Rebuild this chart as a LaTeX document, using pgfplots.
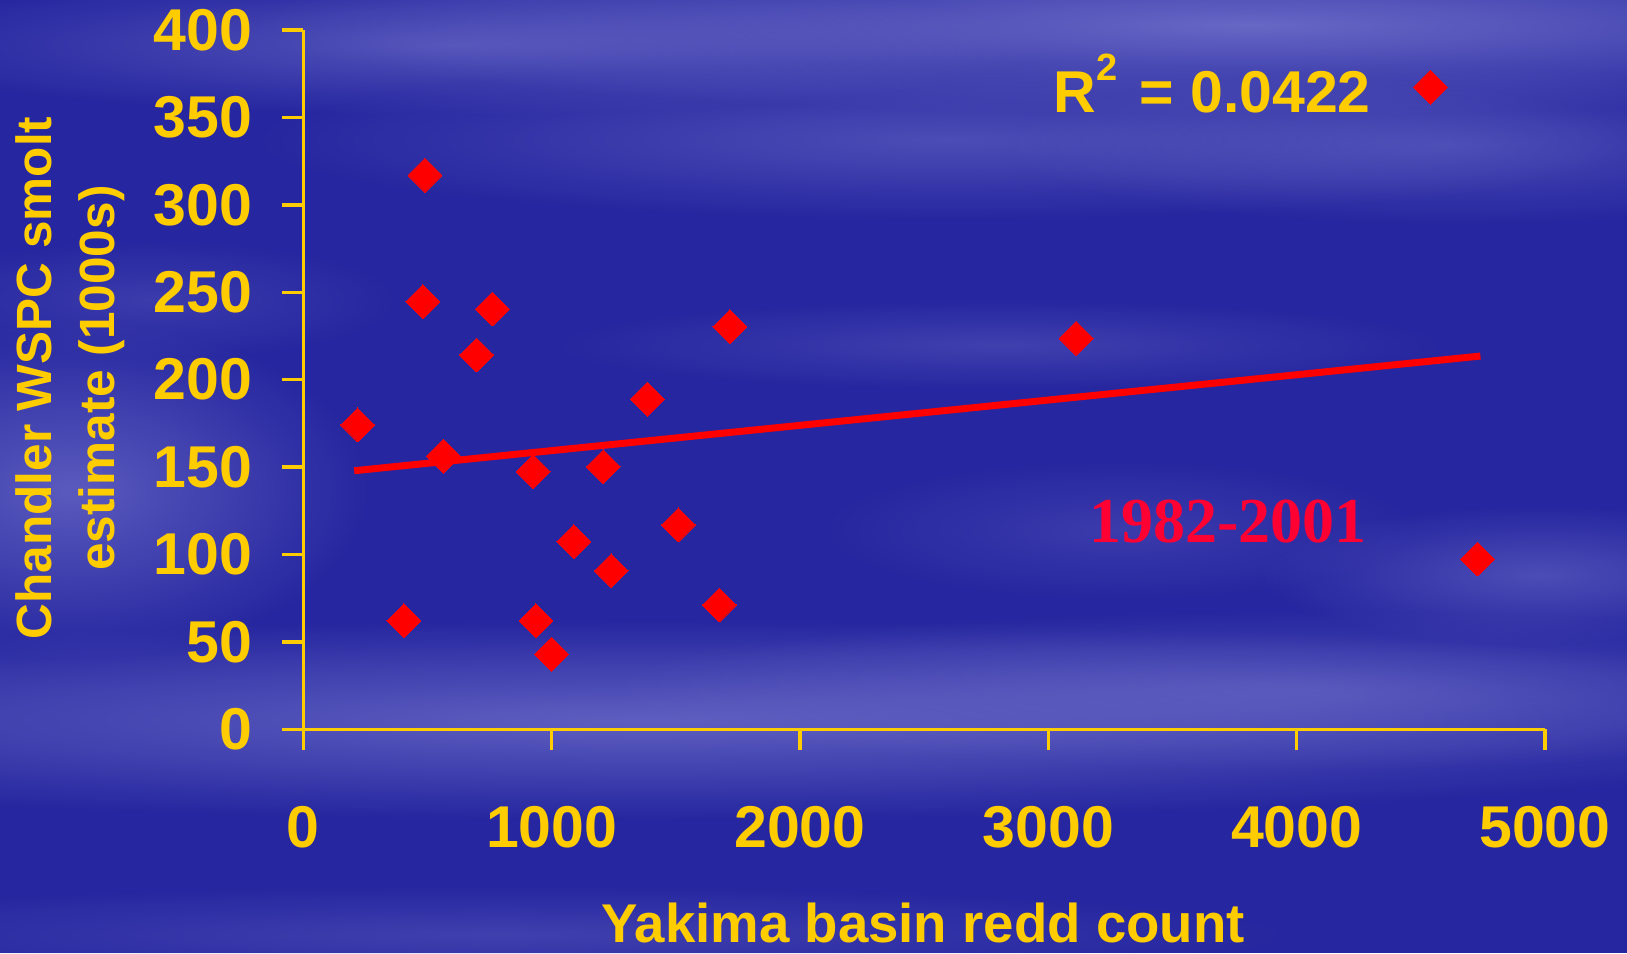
\documentclass[border=0pt]{standalone}
\usepackage{fontspec}
\setmainfont{Liberation Sans}
\newfontfamily\serifface{Liberation Serif}
\usepackage{pgfplots}
\pgfplotsset{compat=1.18}
\usetikzlibrary{fadings}

\definecolor{bgblue}{RGB}{38,38,160}
\definecolor{haze}{RGB}{125,125,210}
\definecolor{gold}{RGB}{255,204,0}
\definecolor{crimson}{RGB}{255,0,51}

\tikzfading[name=soft, inner color=transparent!0, outer color=transparent!100]

\begin{document}
\begin{tikzpicture}[x=0.5pt,y=0.5pt]
\useasboundingbox (0,0) rectangle (1627,953);
\clip (0,0) rectangle (1627,953);
\fill[bgblue] (0,0) rectangle (1627,953);
% cloudy streaks in the backdrop (positions measured from the top edge)
\begin{scope}[shift={(0,953)},yscale=-1]
  \foreach \cx/\cy/\rx/\ry/\op in {
      1250/25/1000/90/0.75, 450/45/600/70/0.5, 950/140/700/80/0.45,
      1450/145/450/80/0.4, 1000/345/450/45/0.3, 70/490/300/170/0.6,
      650/720/1300/100/0.65, 1300/690/700/80/0.45, 1540/575/280/70/0.45,
      1120/530/300/70/0.25, 500/935/800/50/0.3, 150/300/250/60/0.25}
  {
    \fill[haze, opacity=\op, path fading=soft] (\cx,\cy) ellipse ({\rx} and {\ry});
  }
\end{scope}

\begin{axis}[
  at={(151.65pt,111.85pt)}, anchor=south west,
  scale only axis, width=620.85pt, height=349.65pt,
  xmin=0, xmax=5000, ymin=0, ymax=400,
  axis lines=left,
  axis line style={gold, line width=1.7pt, -},
  tick style={gold, line width=1.7pt},
  tick align=outside, major tick length=10.5pt,
  xtick={0,1000,...,5000}, ytick={0,50,...,400},
  minor tick num=0,
  /pgf/number format/assume math mode=true,
  /pgf/number format/1000 sep={},
  ticklabel style={text=gold, font=\fontsize{29.5}{32}\selectfont\bfseries, inner sep=0pt},
  xticklabel style={anchor=north, yshift=-28pt},
  yticklabel style={anchor=east, xshift=-15pt},
  clip=false,
]
\addplot[only marks, color=red, mark=square*, mark size=6pt,
  mark options={rotate=45, solid, fill=red, draw=red, line width=0pt}] coordinates {
  (219,174.1) (405,62.1) (490,317) (481,244.6) (564,156.3)
  (698,214.1) (761,240.4) (926,147.4) (937,62.1) (1000,42.9)
  (1089,107.4) (1208,150.2) (1240,90.7) (1385,188.9) (1510,116.9)
  (1675,71.1) (1718,230.3) (3112,223.7) (4538,367.3) (4728,97.4)
};
% least-squares trend line
\addplot[red, line width=3.5pt, no marks] coordinates {(205,147.9) (4740,213.5)};
\end{axis}

% annotations
\node[anchor=base west, inner sep=0pt, text=gold,
  font=\fontsize{29.5}{32}\selectfont\bfseries] at (1053,840)
  {R\raisebox{16pt}{\fontsize{19}{19}\selectfont 2}\hspace{3pt} = 0.0422};
\node[anchor=base, inner sep=0pt, text=crimson,
  font=\serifface\bfseries\fontsize{32}{32}\selectfont] at (1228,410) {1982-2001};
\node[anchor=base, inner sep=0pt, text=gold,
  font=\fontsize{27.3}{30}\selectfont\bfseries] at (923,11) {Yakima basin redd count};
\node[rotate=90, align=center, inner sep=0pt, text=gold,
  font=\fontsize{24.75}{31.5}\selectfont\bfseries] at (70,575)
  {Chandler WSPC smolt\\estimate (1000s)};
\end{tikzpicture}
\end{document}
